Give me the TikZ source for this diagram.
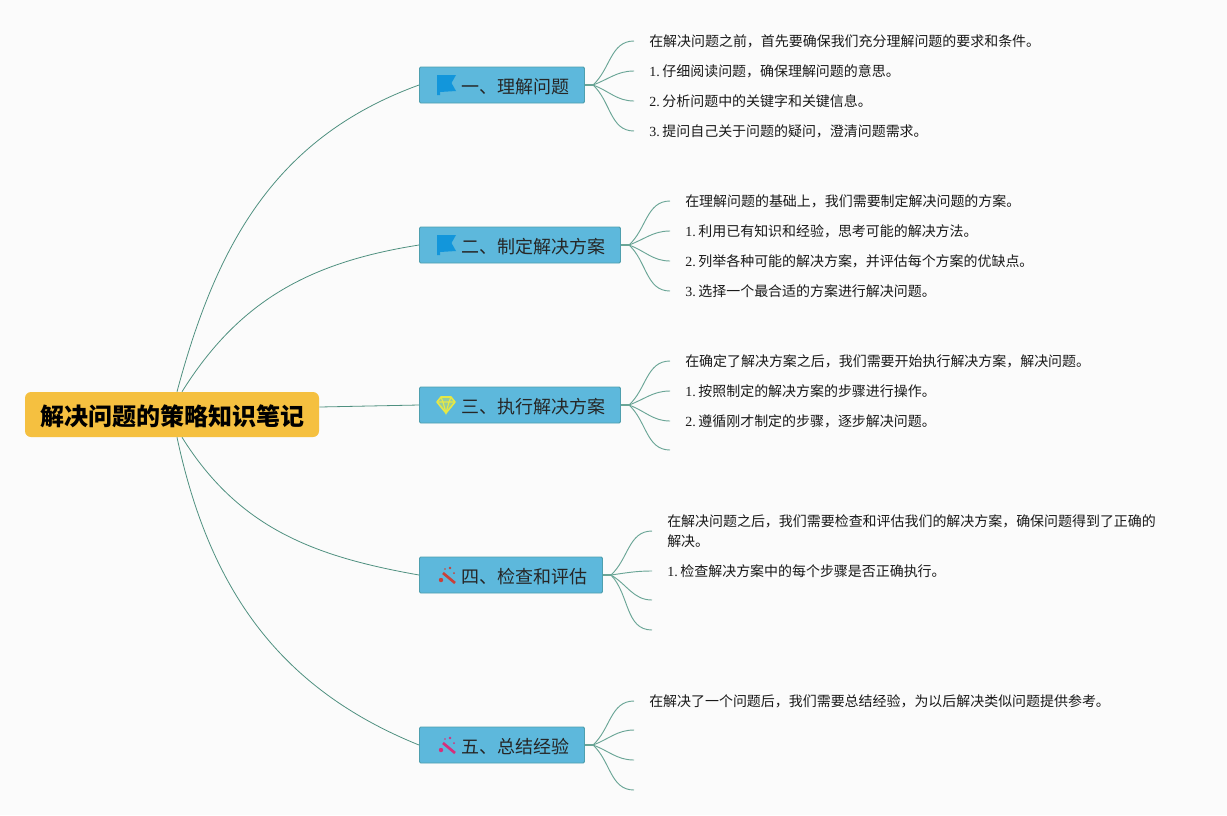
\documentclass[tikz,border=0pt]{standalone}
\usepackage{fontspec}
\setmainfont{Liberation Serif}
\newfontfamily\cjk{Noto Sans CJK SC}
\usetikzlibrary{positioning}

\definecolor{pagebg}{HTML}{FBFBFB}
\definecolor{rootfill}{HTML}{F5C040}
\definecolor{topicfill}{HTML}{5DB8DC}
\definecolor{topicedge}{HTML}{4E9FAE}
\definecolor{linkgreen}{HTML}{4F9080}
\definecolor{fangreen}{HTML}{6AA596}
\definecolor{flagblue}{HTML}{1296DB}
\definecolor{gemyellow}{HTML}{E6E845}
\definecolor{wandred}{HTML}{C8403A}
\definecolor{wandpink}{HTML}{D62F7C}

\tikzset{
  rootbox/.style={fill=rootfill, rounded corners=4.5pt, inner xsep=11.25pt, minimum height=33.75pt,
    text height=17.2pt, text depth=0pt, font=\cjk\fontsize{18}{22}\selectfont\bfseries},
  topicbox/.style={draw=topicedge, fill=topicfill, rounded corners=1pt, anchor=west, inner xsep=11.25pt,
    minimum height=27pt, line width=0.7pt, text height=12pt, text depth=0pt, text=black!85,
    font=\cjk\fontsize{13.5}{16}\selectfont},
  detailbox/.style={anchor=west, inner xsep=11.25pt, inner ysep=0pt, align=left, text=black!90,
    font=\fontsize{10.47}{15}\selectfont},
  mainlink/.style={draw=linkgreen, line width=0.6pt},
  stemlink/.style={draw=fangreen, line width=1.6pt},
  fanlink/.style={draw=fangreen, line width=0.7pt, out=#1, in=180}
}

\newcommand{\numline}[2]{#1.\hspace{2pt}{\cjk #2}}
\newcommand{\topictext}[1]{\hspace*{20.25pt}#1}

\newcommand{\flagicon}[2]{
  \fill[flagblue] (#1,#2) ++(0,-10) -- ++(19,0) -- ++(-4.5,8) -- ++(4.5,8) -- ++(-16,1) -- ++(0,3) -- ++(-3,0) -- cycle;
}
\newcommand{\gemicon}[2]{
  \begin{scope}[shift={(#1,#2)}]
    \draw[gemyellow, fill=gemyellow!40!topicfill, line width=1.2pt, line join=round] (-5,-8) -- (5,-8) -- (9,-3) -- (0,8) -- (-9,-3) -- cycle;
    \draw[gemyellow, line width=0.9pt] (-9,-3) -- (9,-3) (-5,-8) -- (-3,-3) -- (0,8) -- (3,-3) -- (5,-8);
  \end{scope}
}
\newcommand{\wandicon}[3]{
  \begin{scope}[shift={(#1,#2)}]
    \draw[#3, line width=2pt] (-3,-3) -- (9,7);
    \fill[#3] (-5,4) circle (2.2) (4,-8) circle (1.4) (8,-3) circle (1.0) (-1,-7) circle (0.8);
  \end{scope}
}

\begin{document}
\begin{tikzpicture}[x=0.75pt, y=-0.75pt]
  \fill[pagebg] (0,0) rectangle (1227,815);
  \useasboundingbox (0,0) rectangle (1227,815);

  \node[rootbox] (root) at (172,414.5) {解决问题的策略知识笔记};

  % first level
  \node[topicbox] (topicA) at (419,85)  {\topictext{一、理解问题}};
  \node[topicbox] (topicB) at (419,245) {\topictext{二、制定解决方案}};
  \node[topicbox] (topicC) at (419,405) {\topictext{三、执行解决方案}};
  \node[topicbox] (topicD) at (419,575) {\topictext{四、检查和评估}};
  \node[topicbox] (topicE) at (419,745) {\topictext{五、总结经验}};

  \flagicon{437}{85}
  \flagicon{437}{245}
  \gemicon{446}{405}
  \wandicon{446}{576}{wandred}
  \wandicon{446}{746}{wandpink}

  \draw[mainlink] ([xshift=3.75pt]root.north) to[out=75, in=200] (topicA.west);
  \draw[mainlink] ([xshift=7.5pt]root.north) to[out=58, in=189] (topicB.west);
  \draw[mainlink] (root.east) ++(0,-7.5) coordinate (rootout) (rootout) -- (topicC.west);
  \draw[mainlink] ([xshift=7.5pt]root.south) to[out=-58, in=170] (topicD.west);
  \draw[mainlink] ([xshift=3.75pt]root.south) to[out=-78, in=158] (topicE.west);

  % second level
  \node[detailbox] (noteA) at (634,41)  {{\cjk 在解决问题之前，首先要确保我们充分理解问题的要求和条件。}};
  \node[detailbox] (stepAa) at (634,71)  {\numline{1}{仔细阅读问题，确保理解问题的意思。}};
  \node[detailbox] (stepAb) at (634,101) {\numline{2}{分析问题中的关键字和关键信息。}};
  \node[detailbox] (stepAc) at (634,131) {\numline{3}{提问自己关于问题的疑问，澄清问题需求。}};

  \node[detailbox] (noteB) at (670,201)  {{\cjk 在理解问题的基础上，我们需要制定解决问题的方案。}};
  \node[detailbox] (stepBa) at (670,231) {\numline{1}{利用已有知识和经验，思考可能的解决方法。}};
  \node[detailbox] (stepBb) at (670,261) {\numline{2}{列举各种可能的解决方案，并评估每个方案的优缺点。}};
  \node[detailbox] (stepBc) at (670,291) {\numline{3}{选择一个最合适的方案进行解决问题。}};

  \node[detailbox] (noteC) at (670,361)  {{\cjk 在确定了解决方案之后，我们需要开始执行解决方案，解决问题。}};
  \node[detailbox] (stepCa) at (670,391) {\numline{1}{按照制定的解决方案的步骤进行操作。}};
  \node[detailbox] (stepCb) at (670,421) {\numline{2}{遵循刚才制定的步骤，逐步解决问题。}};
  \coordinate (stepCc) at (670,450);

  \node[detailbox] (noteD) at (652,531) {{\cjk 在解决问题之后，我们需要检查和评估我们的解决方案，确保问题得到了正确的}\\{\cjk 解决。}};
  \node[detailbox] (stepDa) at (652,571) {\numline{1}{检查解决方案中的每个步骤是否正确执行。}};
  \coordinate (stepDb) at (652,600);
  \coordinate (stepDc) at (652,630);

  \node[detailbox] (noteE) at (634,701) {{\cjk 在解决了一个问题后，我们需要总结经验，为以后解决类似问题提供参考。}};
  \coordinate (stepEa) at (634,730);
  \coordinate (stepEb) at (634,760);
  \coordinate (stepEc) at (634,790);

  \draw[stemlink] (topicA.east) -- ++(8,0) coordinate (forkA);
  \draw[fanlink=42] (forkA) to (noteA.west);
  \draw[fanlink=20] (forkA) to (stepAa.west);
  \draw[fanlink=-20] (forkA) to (stepAb.west);
  \draw[fanlink=-42] (forkA) to (stepAc.west);

  \draw[stemlink] (topicB.east) -- ++(8,0) coordinate (forkB);
  \draw[fanlink=42] (forkB) to (noteB.west);
  \draw[fanlink=20] (forkB) to (stepBa.west);
  \draw[fanlink=-20] (forkB) to (stepBb.west);
  \draw[fanlink=-42] (forkB) to (stepBc.west);

  \draw[stemlink] (topicC.east) -- ++(8,0) coordinate (forkC);
  \draw[fanlink=42] (forkC) to (noteC.west);
  \draw[fanlink=20] (forkC) to (stepCa.west);
  \draw[fanlink=-20] (forkC) to (stepCb.west);
  \draw[fanlink=-42] (forkC) to (stepCc);

  \draw[stemlink] (topicD.east) -- ++(8,0) coordinate (forkD);
  \draw[fanlink=42] (forkD) to (noteD.west);
  \draw[fanlink=8] (forkD) to (stepDa.west);
  \draw[fanlink=-30] (forkD) to (stepDb);
  \draw[fanlink=-46] (forkD) to (stepDc);

  \draw[stemlink] (topicE.east) -- ++(8,0) coordinate (forkE);
  \draw[fanlink=42] (forkE) to (noteE.west);
  \draw[fanlink=20] (forkE) to (stepEa);
  \draw[fanlink=-20] (forkE) to (stepEb);
  \draw[fanlink=-42] (forkE) to (stepEc);
\end{tikzpicture}
\end{document}
